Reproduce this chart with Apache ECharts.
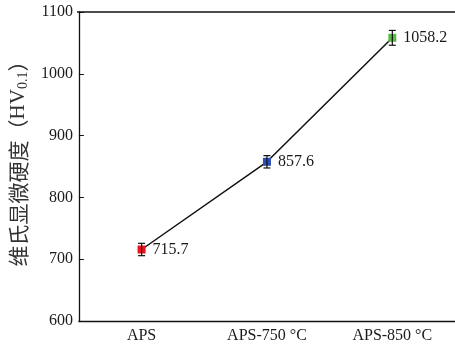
<!DOCTYPE html>
<html>
<head>
<meta charset="utf-8">
<style>html,body{margin:0;padding:0;background:#fff;}#c{width:455px;height:346px;}</style>
<script src="https://cdn.jsdelivr.net/npm/echarts@6/dist/echarts.min.js"></script>
</head>
<body>
<div id="c"></div>
<script>
// Vickers microhardness of the coatings
var categories = ['APS', 'APS-750 °C', 'APS-850 °C'];
var hardness = [715.7, 857.6, 1058.2];
var errors = [10, 10, 12];
var pointColors = ['#e8121c', '#2b4fb5', '#5cb948'];
var yTicks = [600, 700, 800, 900, 1000, 1100];

var serif = '"Liberation Serif", "DejaVu Serif", serif';
var cjk = '"Noto Sans CJK SC", sans-serif';
var chart = echarts.init(document.getElementById('c'));

var errData = hardness.map(function (v, i) { return [i, v - errors[i], v + errors[i]]; });

chart.setOption({
  animation: false,
  grid: { left: 77, top: 12, width: 384, height: 309, containLabel: false },
  xAxis: {
    type: 'category',
    data: categories,
    boundaryGap: true,
    axisLine: { lineStyle: { color: '#111', width: 1.3 } },
    axisTick: { inside: true, alignWithLabel: true, length: 5, lineStyle: { color: '#111' } },
    axisLabel: { color: '#1a1a1a', fontFamily: serif, fontSize: 16, margin: 7, interval: 0 },
    splitLine: { show: false }
  },
  yAxis: {
    type: 'value',
    min: yTicks[0],
    max: yTicks[yTicks.length - 1],
    interval: 100,
    name: '{c|维氏显微硬度（}{h|HV}{s|0.1}{c|）}',
    nameLocation: 'middle',
    nameRotate: 90,
    nameGap: 45,
    nameTextStyle: {
      padding: [0, 0, 0, 16],
      rich: {
        c: { fontFamily: cjk, fontSize: 21, color: '#333' },
        h: { fontFamily: serif, fontSize: 21, color: '#333' },
        s: { fontFamily: serif, fontSize: 14, color: '#333', verticalAlign: 'bottom', padding: [9, 0, 0, 0] }
      }
    },
    axisLine: { show: true, lineStyle: { color: '#111', width: 1.3 } },
    axisTick: { show: true, inside: true, length: 5, lineStyle: { color: '#111' } },
    axisLabel: {
      color: '#1a1a1a', fontFamily: serif, fontSize: 16, margin: 6,
      formatter: function (v) { return String(v); }
    },
    splitLine: { show: false }
  },
  series: [
    {
      type: 'line',
      data: hardness.map(function (v, i) {
        return { value: v, itemStyle: { color: pointColors[i] } };
      }),
      symbol: 'rect',
      symbolSize: 8,
      lineStyle: { color: '#111', width: 1.5 },
      label: {
        show: true,
        position: 'right',
        distance: 7,
        color: '#1a1a1a',
        fontFamily: serif,
        fontSize: 16,
        formatter: function (p) { return p.value.toFixed(1); }
      },
      z: 2
    },
    {
      type: 'custom',
      data: errData,
      renderItem: function (params, api) {
        var x = api.value(0);
        var lo = api.coord([x, api.value(1)]);
        var hi = api.coord([x, api.value(2)]);
        var w = 3.5;
        var st = { stroke: '#111', lineWidth: 1.2 };
        return {
          type: 'group',
          children: [
            { type: 'line', shape: { x1: lo[0], y1: lo[1], x2: hi[0], y2: hi[1] }, style: st },
            { type: 'line', shape: { x1: lo[0] - w, y1: lo[1], x2: lo[0] + w, y2: lo[1] }, style: st },
            { type: 'line', shape: { x1: hi[0] - w, y1: hi[1], x2: hi[0] + w, y2: hi[1] }, style: st }
          ]
        };
      },
      z: 3
    }
  ]
});

// top frame line of the plot area
chart.setOption({
  graphic: [{
    type: 'line',
    shape: { x1: 77, y1: 12, x2: 461, y2: 12 },
    style: { stroke: '#111', lineWidth: 1.3 }
  }]
});
</script>
</body>
</html>
